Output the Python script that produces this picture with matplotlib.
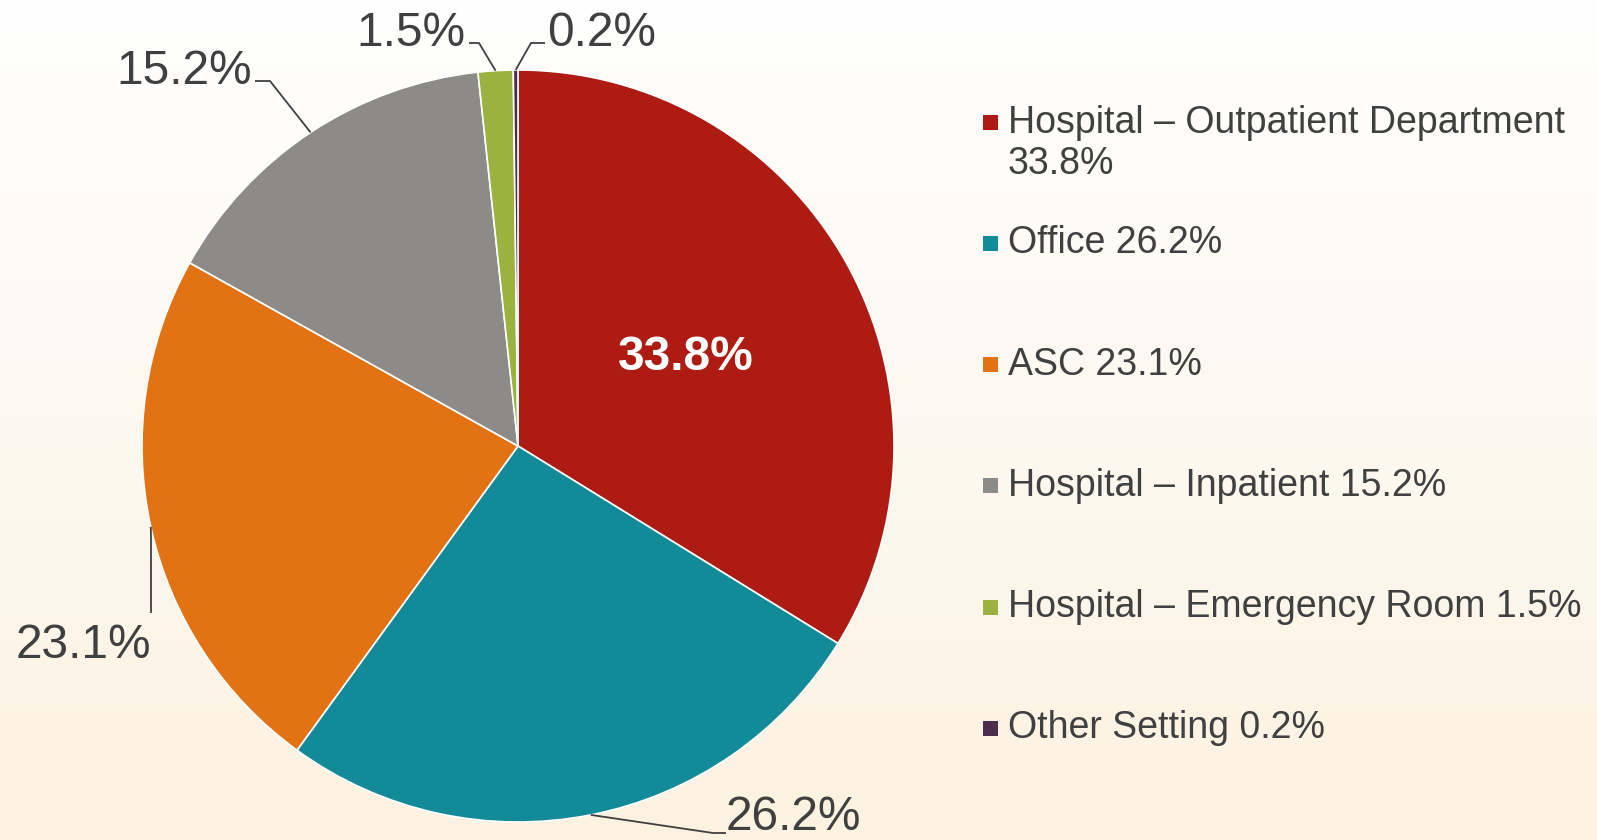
import numpy as np
import matplotlib
matplotlib.use("Agg")
import matplotlib.pyplot as plt
from matplotlib.patches import Rectangle

plt.rcParams['font.family'] = ['Liberation Sans', 'DejaVu Sans']

# data
settings = ['Hospital \u2013 Outpatient Department', 'Office', 'ASC',
            'Hospital \u2013 Inpatient', 'Hospital \u2013 Emergency Room', 'Other Setting']
shares = [33.8, 26.2, 23.1, 15.2, 1.5, 0.2]
colors = ['#AE1B12', '#128A97', '#E37214', '#8C8B89', '#9BB241', '#4B2D4B']
legend_text = ['Hospital \u2013 Outpatient Department\n33.8%', 'Office 26.2%', 'ASC 23.1%',
               'Hospital \u2013 Inpatient 15.2%', 'Hospital \u2013 Emergency Room 1.5%',
               'Other Setting 0.2%']

W, H = 1597, 840
def Y(y):
    return H - y

fig = plt.figure(figsize=(W / 100, H / 100), dpi=100)
ax = fig.add_axes([0, 0, 1, 1])

# background gradient white -> cream
top = np.array([255, 255, 255]) / 255
bot = np.array([252, 242, 225]) / 255
t = np.linspace(0, 1, 256)[:, None]
grad = (top[None, :] * (1 - t) + bot[None, :] * t)[:, None, :]
ax.imshow(grad, extent=[0, W, 0, H], aspect='auto', zorder=0, origin='upper')

cx, cy, r = 518, Y(446), 376
wedges, _ = ax.pie(shares, colors=colors, startangle=90, counterclock=False,
                   center=(cx, cy), radius=r, frame=True,
                   wedgeprops=dict(edgecolor='white', linewidth=1.2))
for w in wedges:
    w.set_zorder(2)
ax.set_xlim(0, W)
ax.set_ylim(0, H)
ax.set_aspect('equal')
ax.axis('off')

txt = '#404040'
# label layout: text pos, ha, elbow points (screen px, y down)
label_layout = [
    None,
    dict(xy=(726, 818), ha='left', pts=[(713, 833), (726, 833)]),
    dict(xy=(151, 646), ha='right', pts=[(151, 538), (151, 613)]),
    dict(xy=(252, 71), ha='right', pts=[(270, 81), (255, 81)]),
    dict(xy=(465, 33), ha='right', pts=[(479, 43), (469, 43)]),
    dict(xy=(547, 33), ha='left', pts=[(531, 43), (545, 43)]),
]

for i, (w, v) in enumerate(zip(wedges, shares)):
    mid = np.deg2rad((w.theta1 + w.theta2) / 2)
    ex, ey = cx + r * np.cos(mid), cy + r * np.sin(mid)
    lab = '%.1f%%' % v
    lay = label_layout[i]
    if lay is None:
        ax.text(686, Y(358), lab, color='white', fontsize=34.5, fontweight='bold',
                ha='center', va='center', zorder=4)
        continue
    xs = [ex] + [p[0] for p in lay['pts']]
    ys = [ey] + [Y(p[1]) for p in lay['pts']]
    ax.plot(xs, ys, color=txt, lw=1.3, zorder=3, solid_capstyle='butt')
    ax.text(lay['xy'][0], Y(lay['xy'][1]), lab, color=txt, fontsize=34.5,
            ha=lay['ha'], va='center', zorder=4)

# legend
leg_y0, leg_step, line_h = 122, 121.3, 43
for i, (c, s) in enumerate(zip(colors, legend_text)):
    y = leg_y0 + i * leg_step
    ax.add_patch(Rectangle((983, Y(y) - 7.5), 15, 15, facecolor=c,
                           edgecolor='none', zorder=3))
    n = s.count('\n')
    ax.text(1008, Y(y + n * line_h / 2), s, color=txt, fontsize=27,
            ha='left', va='center', linespacing=1.15, zorder=3)

fig.savefig('out.png', dpi=100)
